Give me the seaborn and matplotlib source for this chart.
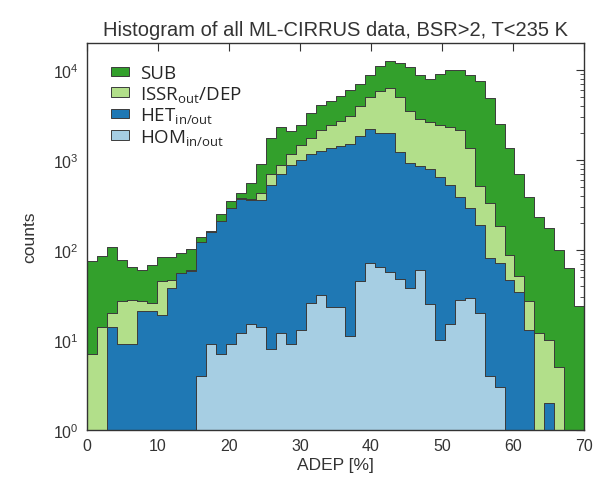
import numpy as np
import pandas as pd
import matplotlib
matplotlib.use('Agg')
import matplotlib.pyplot as plt
import seaborn as sns

# ADEP bins: 50 bins of 1.4 % from 0 to 70 %
bin_edges = [round(1.4 * i, 2) for i in range(51)]
bin_centers = [round(1.4 * i + 0.7, 2) for i in range(50)]

# counts per bin for each class
sub_counts = [68, 71, 87, 51, 37, 33, 42, 38, 37, 37,
              42, 15, 2, 42, 52, 47, 178, 485, 1046, 1453,
              914, 976, 1533, 1936, 2116, 2382, 2936, 2937, 3698, 5077,
              6279, 6873, 7167, 6029, 5313, 6665, 7656, 7847, 7564, 7078,
              4522, 2329, 1262, 640, 362, 222, 164, 95, 63, 24]
issr_counts = [7, 14, 6, 18, 19, 6, 5, 26, 8, 1,
               1, 0, 0, 0, 0, 8, 9, 64, 167, 199,
               284, 479, 603, 879, 1075, 1281, 1576, 2119, 2824, 3893,
               4315, 3782, 2625, 2033, 1836, 1809, 1819, 1764, 1054, 317,
               250, 111, 40, 18, 14, 12, 8, 5, 0, 0]
het_counts = [0, 0, 14, 9, 9, 21, 21, 19, 38, 55,
              59, 119, 151, 202, 286, 360, 348, 349, 517, 680,
              882, 987, 1149, 1227, 1340, 1400, 1503, 1817, 2117, 1931,
              1938, 1182, 885, 791, 769, 636, 510, 361, 266, 171,
              77, 69, 47, 34, 13, 0, 2, 0, 0, 0]
hom_counts = [0, 0, 0, 0, 0, 0, 0, 0, 0, 0,
              0, 4, 9, 7, 9, 12, 15, 14, 8, 12,
              9, 13, 26, 32, 23, 23, 11, 45, 71, 64,
              57, 48, 38, 60, 25, 10, 15, 28, 29, 20,
              4, 3, 0, 0, 0, 0, 0, 0, 0, 0]

labels = ['SUB', 'ISSR$_{out}$/DEP', 'HET$_{in/out}$', 'HOM$_{in/out}$']
colors = ['#33a02c', '#b2df8a', '#1f78b4', '#a6cee3']

frames = []
for lab, cnt in zip(labels, [sub_counts, issr_counts, het_counts, hom_counts]):
    frames.append(pd.DataFrame({'ADEP': bin_centers, 'counts': cnt, 'type': lab}))
df = pd.concat(frames, ignore_index=True)

sns.set_style('white')
plt.rcParams['font.family'] = ['Liberation Sans', 'DejaVu Sans']
plt.rcParams['mathtext.default'] = 'regular'

fig = plt.figure(figsize=(6.01, 4.81), dpi=100)
ax = fig.add_axes([0.1448, 0.104, 0.827, 0.8046])

# stacked step histogram, first hue level ends up on top
sns.histplot(data=df, x='ADEP', weights='counts', hue='type', hue_order=labels,
             palette=colors, bins=bin_edges, multiple='stack', element='step',
             alpha=1, edgecolor='#3c3c3c', linewidth=0.7, ax=ax)

ax.set_yscale('log')
ax.set_xlim(0, 70)
ax.set_ylim(1, 2e4)
ax.set_xticks(np.arange(0, 71, 10))

ax.tick_params(which='both', direction='in', top=True, right=True,
               colors='#333333', labelcolor='#333333', labelsize=11.5)
ax.tick_params(which='major', length=6, width=0.8)
ax.tick_params(which='minor', length=3, width=0.6)
ax.tick_params(axis='x', which='minor', bottom=False, top=False)
ax.tick_params(axis='x', pad=6)
ax.tick_params(axis='y', pad=6)
for sp in ax.spines.values():
    sp.set_color('#333333')
    sp.set_linewidth(1.0)

ax.set_xlabel('ADEP [%]', fontsize=12.5, color='#333333', labelpad=3)
ax.set_ylabel('counts', fontsize=12.5, color='#333333', labelpad=11)
ax.set_title('Histogram of all ML-CIRRUS data, BSR>2, T<235 K',
             fontsize=14.5, color='#333333', pad=6)

sns.move_legend(ax, 'upper left', bbox_to_anchor=(0.0477, 0.945), frameon=False,
                title=None, borderpad=0, borderaxespad=0,
                handlelength=1.0, handleheight=0.37, handletextpad=0.55,
                labelspacing=0.08, prop={'family': 'Open Sans', 'size': 13.5})

fig.savefig('out.png', dpi=100, facecolor='white')
